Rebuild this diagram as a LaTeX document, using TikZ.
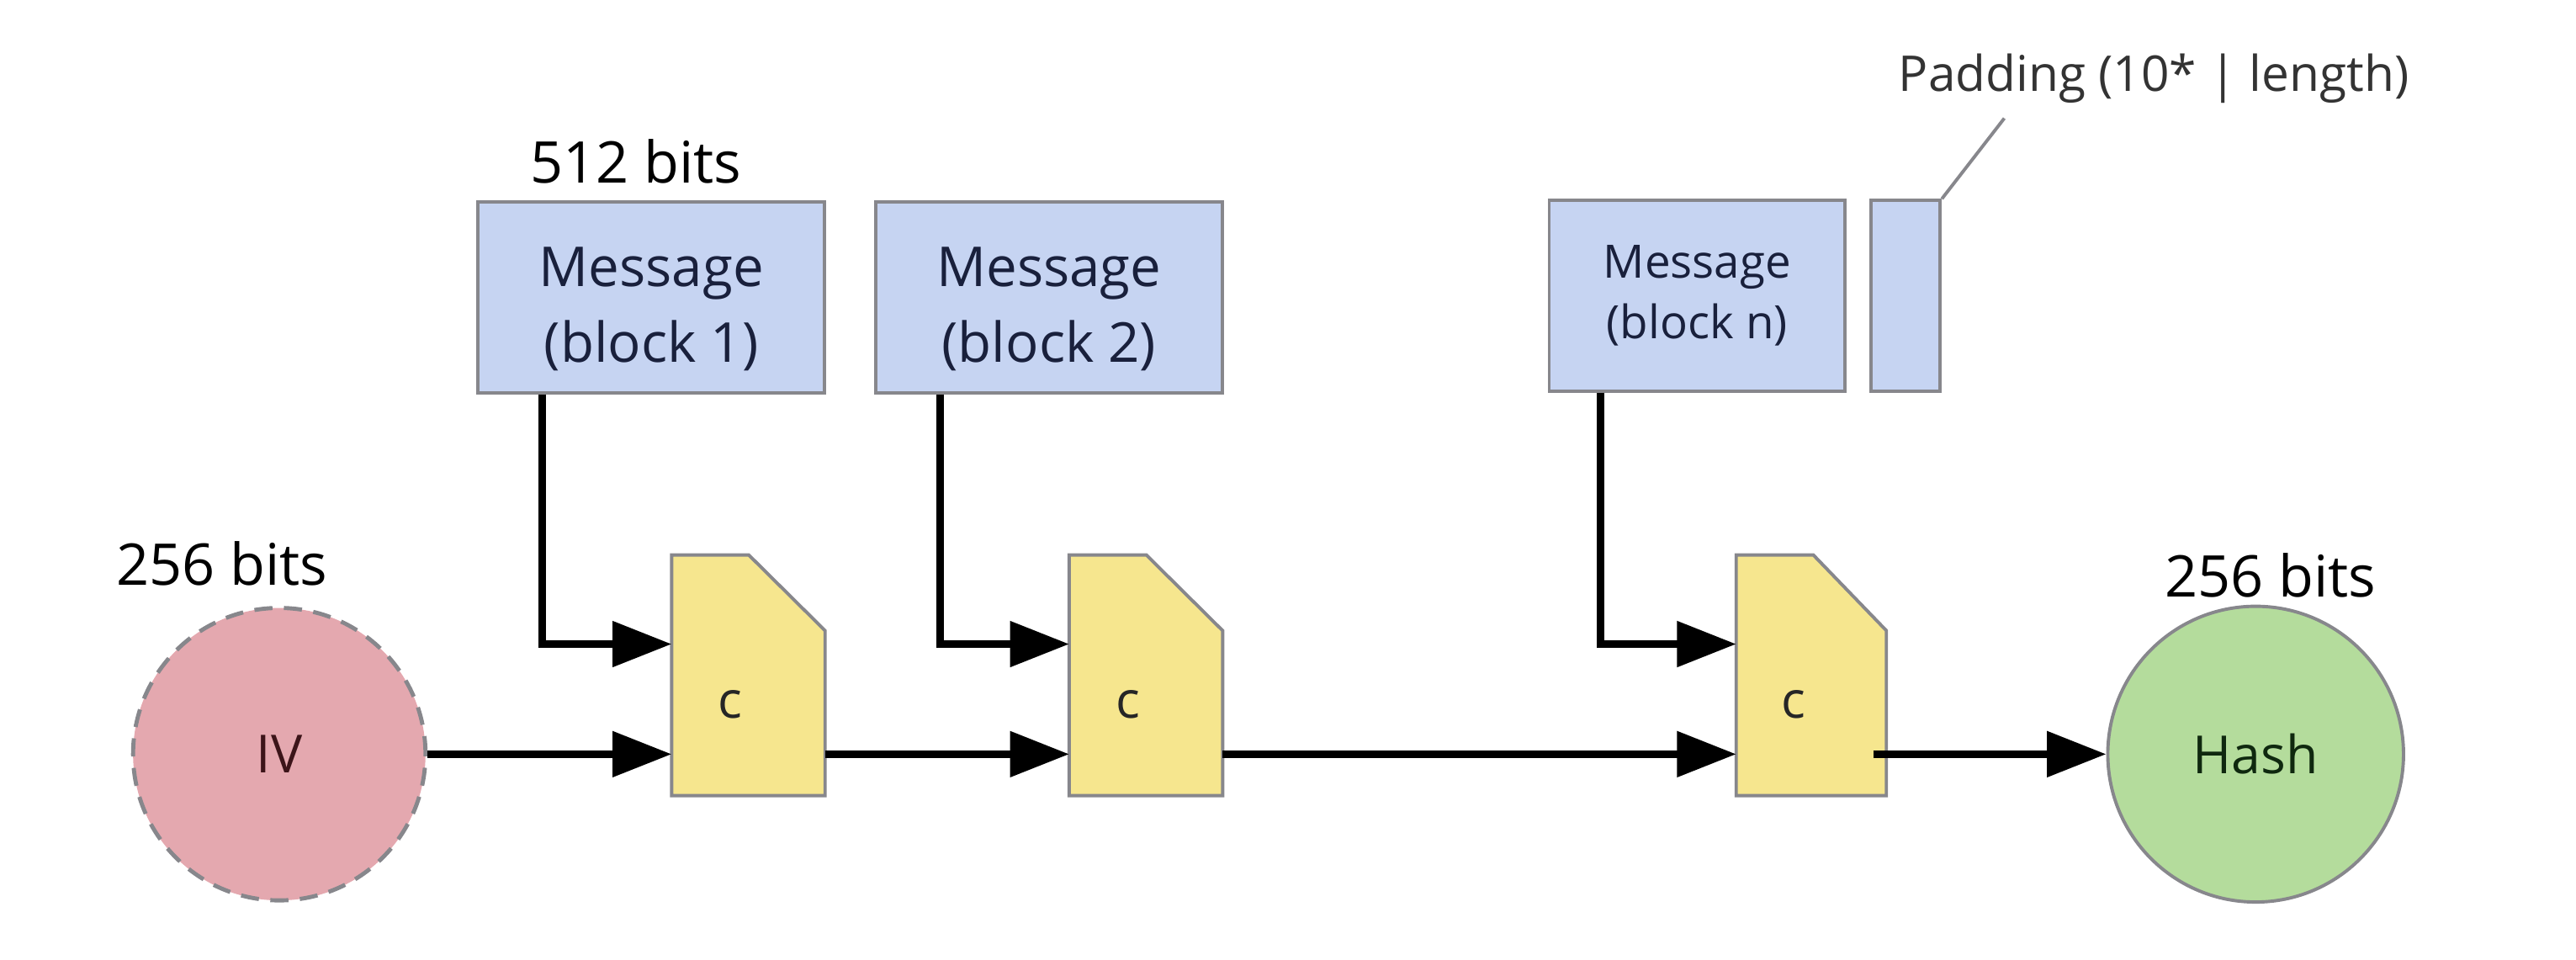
\documentclass[tikz,border=0pt]{standalone}
\usepackage{fontspec}
\setmainfont{Open Sans}
\usetikzlibrary{arrows.meta,calc}
\definecolor{msgblue}{RGB}{198,212,242}
\definecolor{cyellow}{RGB}{246,230,142}
\definecolor{ivpink}{RGB}{228,168,175}
\definecolor{hashgreen}{RGB}{180,220,156}
\definecolor{edgegray}{RGB}{135,135,140}
\definecolor{msgtext}{RGB}{25,32,60}
\tikzset{
  msgbox/.style={draw=edgegray, line width=2pt, fill=msgblue, rectangle, minimum height=116pt, inner sep=0pt, align=center, text=msgtext},
  cbox/.style={rectangle, minimum width=93pt, minimum height=146pt, inner sep=0pt},
  cshape/.style={draw=edgegray, line width=2pt, fill=cyellow, line join=miter},
  flow/.style={line width=4.6pt, -{Triangle[length=36pt,width=27pt]}},
  lbl/.style={inner sep=0pt, font=\fontsize{35}{40}\selectfont},
  bigtxt/.style={font=\fontsize{33.5}{46}\selectfont, text=msgtext, align=center},
  smalltxt/.style={font=\fontsize{28}{37}\selectfont}
}
\begin{document}
\begin{tikzpicture}[x=1pt,y=-1pt]
\useasboundingbox (0,0) rectangle (1568,584);
% message blocks
\node[msgbox, minimum width=211pt, label={[bigtxt, yshift=-7pt, name=b1txt]center:Message\\(block 1)}] (b1) at (396.5,181) {};
\node[msgbox, minimum width=211pt, label={[bigtxt, yshift=-7pt, name=b2txt]center:Message\\(block 2)}] (b2) at (638.5,181) {};
\node[msgbox, smalltxt, minimum width=180pt] (bn) at (1033,180) {Message\\(block n)};
\node[msgbox, minimum width=42pt] (pad) at (1160,180) {};
% labels
\node[lbl] (l512) at (387,98) {512 bits};
\node[lbl, font=\fontsize{30}{34}\selectfont, text=black!80] (lpad) at (1311,48) {Padding (10* | length)};
\coordinate (padtip) at (1220,72);
\draw[edgegray, line width=2pt] (pad.north east) -- (padtip);
% compression boxes
\foreach \n/\x/\w in {c1/455.5/93, c2/697.5/93, cn/1102.5/91}{
  \node[cbox, minimum width=\w pt] (\n) at (\x,411) {};
  \draw[cshape] (\n.north west) -- ($(\n.north west)+(47,0)$) -- ($(\n.north east)+(0,46)$) -- (\n.south east) -- (\n.south west) -- cycle;
  \node[lbl, font=\fontsize{31}{36}\selectfont, text=black!85] (\n txt) at ($(\n.center)+(-11,18)$) {c};
}
% IV and hash
\node[circle, draw=edgegray, dashed, dash pattern=on 11pt off 7pt, line width=2.5pt, fill=ivpink, minimum size=178pt, inner sep=0pt, font=\fontsize{32}{36}\selectfont, text={rgb,255:red,60;green,20;blue,25}] (iv) at (170,459) {IV};
\node[circle, draw=edgegray, line width=2pt, fill=hashgreen, minimum size=180pt, inner sep=0pt, font=\fontsize{32}{36}\selectfont, text={rgb,255:red,15;green,40;blue,15}] (hash) at (1373,459) {Hash};
\node[lbl] (l256a) at (135,343) {256 bits};
\node[lbl] (l256b) at (1382,350) {256 bits};
% flow arrows
\draw[flow] (iv.east) -- (iv -| c1.west);
\draw[flow] (c1.east |- iv) -- (c2.west |- iv);
\draw[flow] (c2.east |- iv) -- (cn.west |- iv);
\draw[flow] ($(cn.east |- iv)+(-8,0)$) -- (hash.west);
\draw[flow, line join=miter] ($(b1.south west)+(40,0)$) |- ($(c1.west)+(0,-19)$);
\draw[flow, line join=miter] ($(b2.south west)+(40,0)$) |- ($(c2.west)+(0,-19)$);
\draw[flow, line join=miter] ($(bn.south west)+(32,0)$) |- ($(cn.west)+(0,-19)$);
\end{tikzpicture}
\end{document}
